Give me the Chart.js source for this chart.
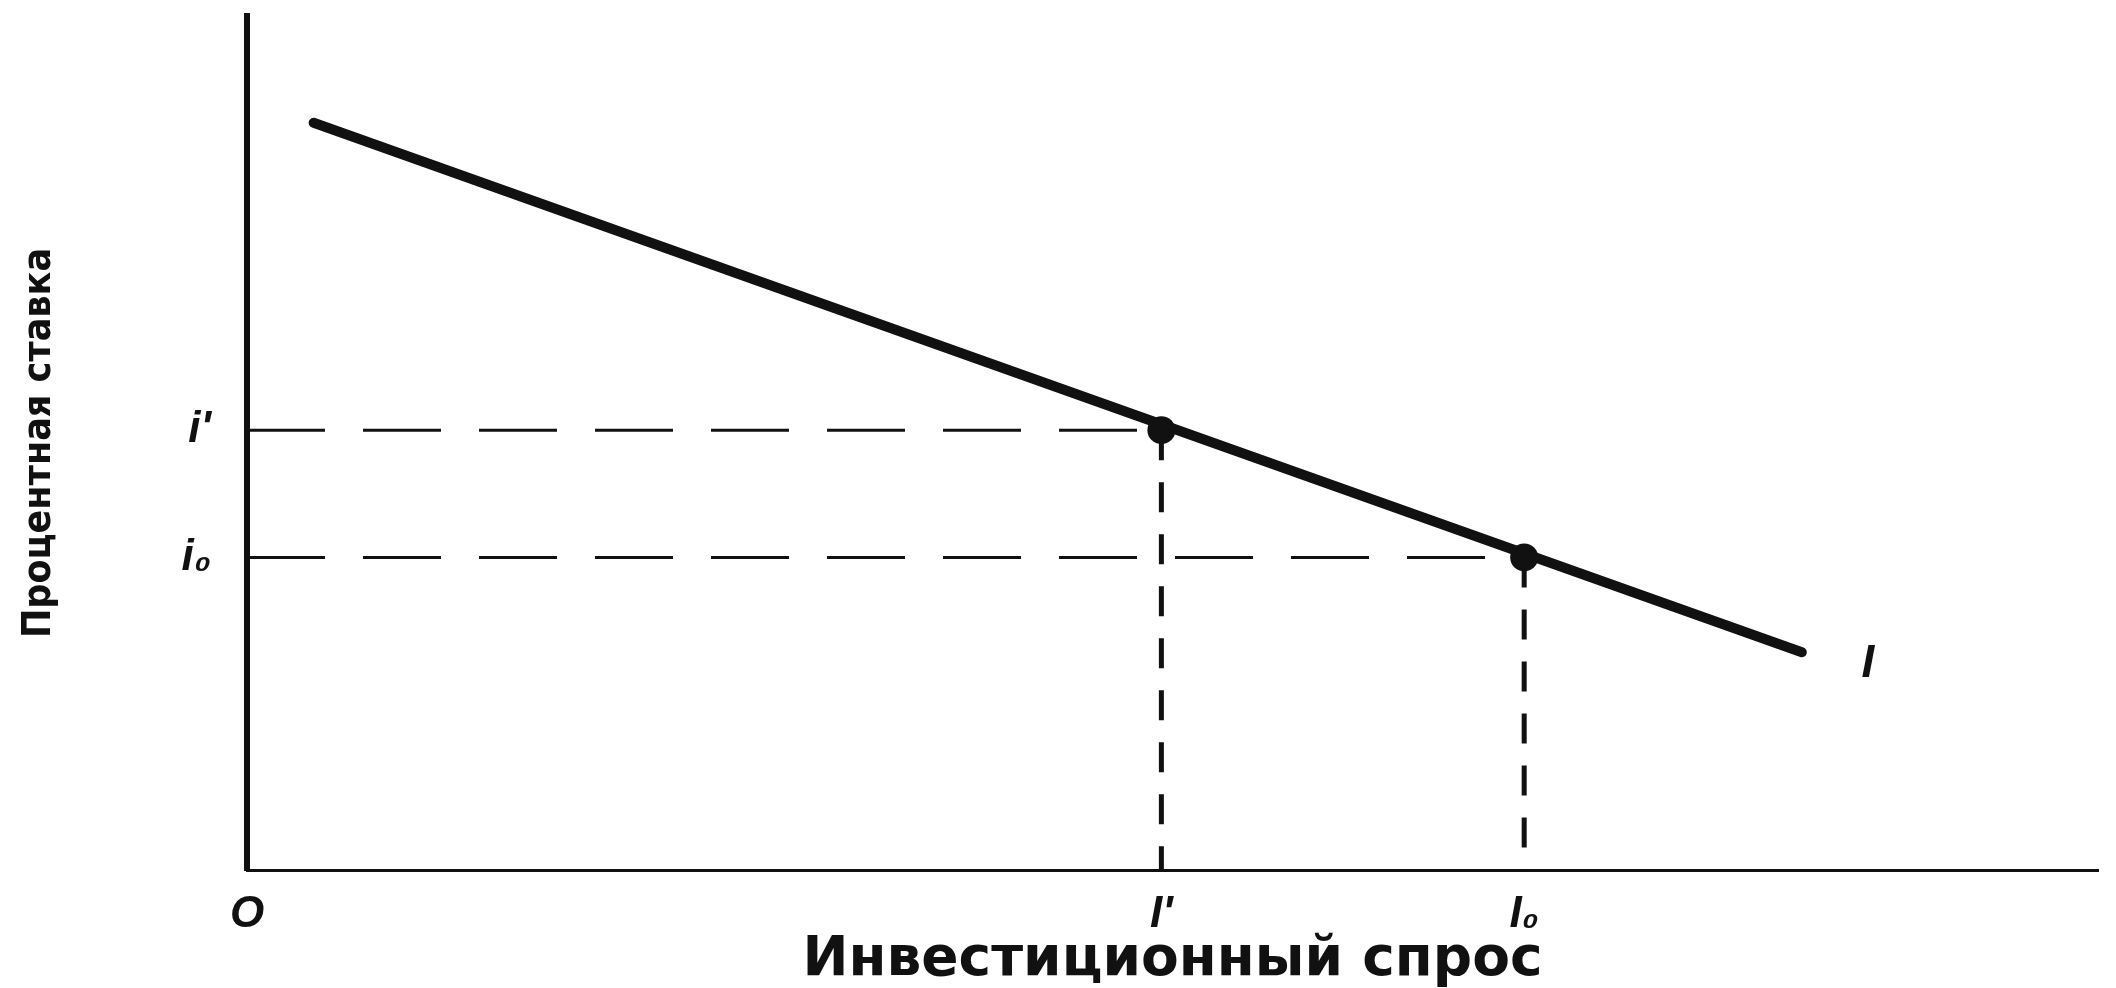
<!DOCTYPE html>
<html>
<head>
<meta charset="utf-8">
<script src="https://cdn.jsdelivr.net/npm/chart.js@4/dist/chart.umd.min.js"></script>
<style>
	html, body { margin: 0; padding: 0; background: #fff; }
	#wrap { width: 2116px; height: 988px; }
</style>
</head>
<body>
<div id="wrap"><canvas id="investChart"></canvas></div>
<script>
// 투자 수요 곡선 (I) 양 끝점
const demandX = [3.6, 84];
const demandY = [87.5, 25.5];

// 곡선 위의 두 점 (I', i') 과 (I0, i0)
const pointX = [49.4, 69.0];
const pointY = [51.5, 36.6];

// 축 눈금 라벨
const xTickValues = [0, 49.4, 69.0];
const xTickLabels = ['O', 'I\'', 'I₀'];
const yTickValues = [51.5, 36.6];
const yTickLabels = ['i\'', 'i₀'];

const curveLabel = 'I';
const xTitle = 'Инвестиционный спрос';
const yTitle = 'Процентная ставка';

document.addEventListener('DOMContentLoaded', function() {
	const ink = '#111';
	const tickFont = { family: 'Liberation Sans', size: 44, style: 'italic', weight: 'bold' };

	// 곡선 데이터
	const demandData = demandX.map(function(x, i) { return { x: x, y: demandY[i] }; });

	// 점선 (가로, 세로)
	const guideSets = [];
	pointX.forEach(function(x, i) {
		guideSets.push({
			data: [{ x: 0, y: pointY[i] }, { x: x, y: pointY[i] }],
			showLine: true, borderColor: ink, borderWidth: 3, borderDash: [78, 38],
			pointRadius: 0, clip: false
		});
		guideSets.push({
			data: [{ x: x, y: pointY[i] }, { x: x, y: 0 }],
			showLine: true, borderColor: ink, borderWidth: 5, borderDash: [30, 22],
			pointRadius: 0, clip: false
		});
	});

	// 곡선 끝에 'I' 라벨
	const curveLabelPlugin = {
		id: 'curveLabel',
		afterDatasetsDraw: function(chart) {
			const xs = chart.scales.x, ys = chart.scales.y;
			const last = demandData[demandData.length - 1];
			const ctx = chart.ctx;
			ctx.save();
			ctx.fillStyle = ink;
			ctx.font = 'italic bold 46px "Liberation Sans"';
			ctx.textAlign = 'center';
			ctx.textBaseline = 'middle';
			ctx.fillText(curveLabel, xs.getPixelForValue(last.x) + 66, ys.getPixelForValue(last.y) + 12);
			ctx.restore();
		}
	};

	const ctx = document.getElementById('investChart').getContext('2d');
	const chart = new Chart(ctx, {
		type: 'scatter',
		data: {
			datasets: [
				{
					data: demandData,
					showLine: true, borderColor: ink, borderWidth: 10, borderCapStyle: 'round',
					pointRadius: 0, clip: false
				}
			].concat(guideSets).concat([
				{
					data: pointX.map(function(x, i) { return { x: x, y: pointY[i] }; }),
					showLine: false, pointRadius: 14, pointBackgroundColor: ink,
					pointBorderWidth: 0, clip: false
				}
			])
		},
		plugins: [curveLabelPlugin],
		options: {
			responsive: true,
			maintainAspectRatio: false,
			devicePixelRatio: 1,
			animation: false,
			layout: { padding: { top: 16, right: 18, left: 0, bottom: 0 } },
			plugins: {
				legend: { display: false },
				tooltip: { enabled: false }
			},
			scales: {
				x: {
					type: 'linear', min: 0, max: 100,
					grid: { display: false },
					border: { display: true, color: ink, width: 3 },
					afterBuildTicks: function(axis) {
						axis.ticks = xTickValues.map(function(v) { return { value: v }; });
					},
					afterFit: function(axis) {
						axis.height = 118;
						axis.paddingLeft = 0;
						axis.paddingRight = 0;
					},
					ticks: {
						autoSkip: false, maxRotation: 0, padding: 10, color: ink,
						font: tickFont,
						callback: function(value, index) { return xTickLabels[index]; }
					},
					title: {
						display: true, text: xTitle, color: ink,
						font: { family: 'DejaVu Sans', size: 55, weight: 'bold', lineHeight: 1 },
						padding: { top: -8, bottom: 0 }
					}
				},
				y: {
					type: 'linear', min: 0, max: 100,
					grid: { display: false },
					border: { display: true, color: ink, width: 6 },
					afterBuildTicks: function(axis) {
						axis.ticks = yTickValues.map(function(v) { return { value: v }; });
					},
					afterFit: function(axis) {
						axis.width = 247;
						axis.paddingTop = 0;
						axis.paddingBottom = 0;
					},
					ticks: {
						autoSkip: false, padding: 28, color: ink,
						font: tickFont,
						callback: function(value, index) { return yTickLabels[index]; }
					},
					title: {
						display: true, text: yTitle, color: ink,
						font: { family: '"DejaVu Sans Condensed", "Liberation Sans"', size: 39, weight: 'bold', lineHeight: 1 },
						padding: { top: 20, bottom: 0 }
					}
				}
			}
		}
	});
	console.log(chart);
});
</script>
</body>
</html>
